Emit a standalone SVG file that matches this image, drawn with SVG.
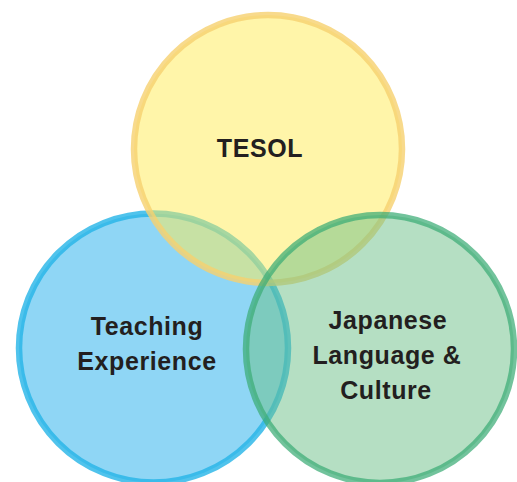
<svg xmlns="http://www.w3.org/2000/svg" width="517" height="482" viewBox="0 0 517 482">
<style>
.c{stroke-width:6.5}
.t{font-family:"Liberation Sans",Arial,sans-serif;font-weight:bold;font-size:25px;fill:#231f20;text-anchor:middle;letter-spacing:0.6px}
</style>
<rect width="517" height="482" fill="#ffffff"/>
<g id="teaching">
<circle class="c" cx="153.5" cy="348" r="134.5" fill="rgb(31,173,235)" fill-opacity="0.5" stroke="rgb(36,180,231)" stroke-opacity="0.8"/>
</g>
<g id="tesol">
<circle class="c" cx="268" cy="149" r="134" fill="rgb(255,235,83)" fill-opacity="0.5" stroke="rgb(246,209,111)" stroke-opacity="0.8"/>
</g>
<g id="japanese">
<circle class="c" cx="380" cy="349" r="134" fill="rgb(107,191,135)" fill-opacity="0.5" stroke="rgb(60,172,118)" stroke-opacity="0.72"/>
</g>
<g id="labels">
<text class="t" x="260" y="157">TESOL</text>
<text class="t" x="147" y="335">Teaching</text>
<text class="t" x="147" y="370">Experience</text>
<text class="t" x="388" y="329">Japanese</text>
<text class="t" x="387" y="364">Language &amp;</text>
<text class="t" x="386" y="399">Culture</text>
</g>
</svg>
